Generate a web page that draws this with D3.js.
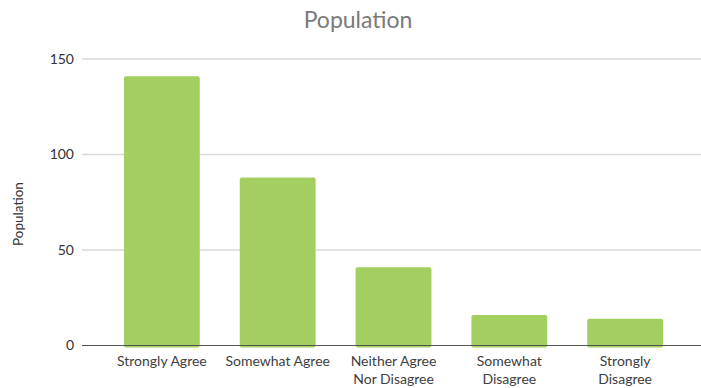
<!DOCTYPE html>
<html>
<head>
<meta charset="utf-8">
<script src="https://cdn.jsdelivr.net/npm/d3@7"></script>
<style>
  body { margin: 0; background: #fff; }
  text { font-family: Lato, "Open Sans", sans-serif; }
</style>
</head>
<body>
<div id="canvas"></div>
<script>
const categories = [
  ["Strongly Agree"],
  ["Somewhat Agree"],
  ["Neither Agree", "Nor Disagree"],
  ["Somewhat", "Disagree"],
  ["Strongly", "Disagree"]
];
const values = [141, 88, 41, 16, 14];
const yTicks = [0, 50, 100, 150];

const width = 701;
const height = 388;

const svg = d3.select("#canvas").append("svg")
  .attr("width", width)
  .attr("height", height);

const y = d3.scaleLinear()
  .domain([0, 150])
  .range([345.5, 59]);

const x = d3.scaleBand()
  .domain(categories.map((d, i) => i))
  .range([104, 683])
  .paddingInner(0.345)
  .paddingOuter(0.172);

// gridlines
svg.append("g")
  .selectAll("line")
  .data(yTicks.filter(d => d > 0))
  .enter().append("line")
  .attr("x1", 82)
  .attr("x2", width)
  .attr("y1", d => y(d))
  .attr("y2", d => y(d))
  .attr("stroke", "#d9d9d9")
  .attr("stroke-width", 1.3);

// bars
svg.append("g")
  .selectAll("rect")
  .data(values)
  .enter().append("rect")
  .attr("x", (d, i) => x(i))
  .attr("y", d => y(d))
  .attr("width", x.bandwidth())
  .attr("height", d => y(0) - y(d) + 2)
  .attr("rx", 2)
  .attr("fill", "#a2cf60");

// x axis line
svg.append("line")
  .attr("x1", 82)
  .attr("x2", width)
  .attr("y1", y(0))
  .attr("y2", y(0))
  .attr("stroke", "#555")
  .attr("stroke-width", 1.2);

// y tick labels
svg.append("g")
  .selectAll("text")
  .data(yTicks)
  .enter().append("text")
  .attr("x", 74)
  .attr("y", d => y(d))
  .attr("dy", "0.35em")
  .attr("text-anchor", "end")
  .attr("fill", "#333")
  .style("font-size", "14px")
  .text(d => d);

// category labels
const labels = svg.append("g")
  .selectAll("text")
  .data(categories)
  .enter().append("text")
  .attr("text-anchor", "middle")
  .attr("fill", "#404040")
  .style("font-size", "14px");

labels.selectAll("tspan")
  .data((d, i) => d.map(t => ({ t, i })))
  .enter().append("tspan")
  .attr("x", d => x(d.i) + x.bandwidth() / 2)
  .attr("y", (d, j) => 366 + j * 18)
  .text(d => d.t);

// title
svg.append("text")
  .attr("x", 358)
  .attr("y", 28)
  .attr("text-anchor", "middle")
  .attr("fill", "#7a7a7a")
  .style("font-size", "23px")
  .text("Population");

// y axis title
svg.append("text")
  .attr("transform", "translate(23,214) rotate(-90)")
  .attr("text-anchor", "middle")
  .attr("fill", "#333")
  .style("font-size", "13.5px")
  .text("Population");
</script>
</body>
</html>
